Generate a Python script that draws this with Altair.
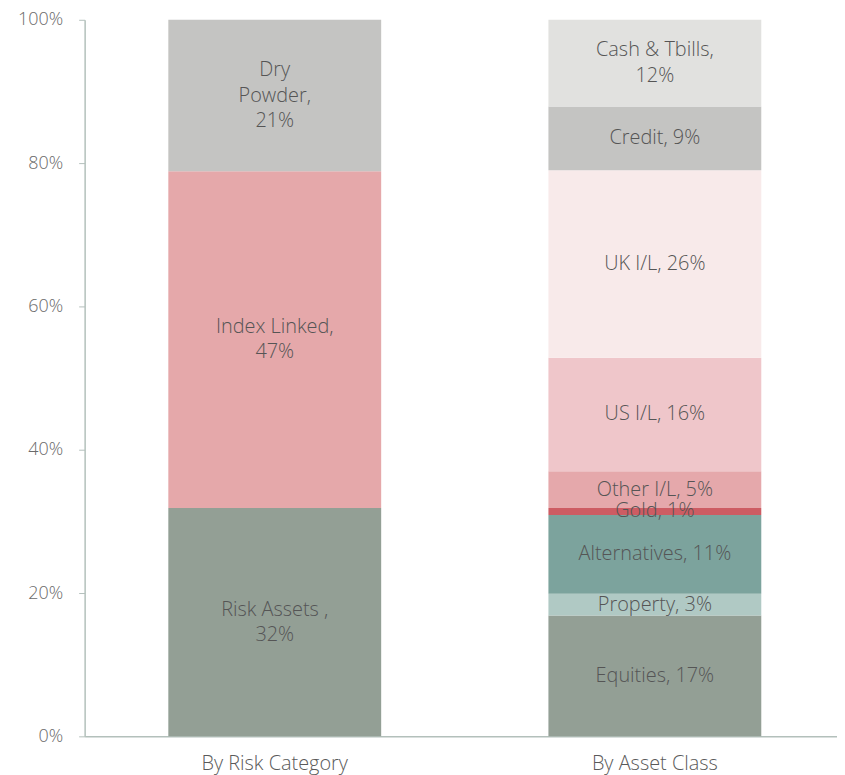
import altair as alt
import pandas as pd

categories = ["By Risk Category"] * 3 + ["By Asset Class"] * 9
segments = ["Risk Assets", "Index Linked", "Dry Powder",
            "Equities", "Property", "Alternatives", "Gold", "Other I/L",
            "US I/L", "UK I/L", "Credit", "Cash & Tbills"]
values = [31.85, 47.0, 21.15,
          16.85, 3.05, 11.0, 0.95, 5.15, 15.85, 26.15, 8.9, 12.1]
labels = [["Risk Assets ,", "32%"], ["Index Linked,", "47%"], ["Dry", "Powder,", "21%"],
          ["Equities, 17%"], ["Property, 3%"], ["Alternatives, 11%"], ["Gold, 1%"],
          ["Other I/L, 5%"], ["US I/L, 16%"], ["UK I/L, 26%"], ["Credit, 9%"],
          ["Cash & Tbills,", "12%"]]
colors = ["#939f95", "#e5a8aa", "#c4c4c2",
          "#939f95", "#b0c9c4", "#7ca39d", "#cd5c63", "#e5a8ab",
          "#efc6ca", "#f8eaea", "#c4c4c2", "#e1e1df"]

keys = [f"{c}|{s}" for c, s in zip(categories, segments)]
df = pd.DataFrame({
    "category": categories,
    "segment": segments,
    "key": keys,
    "value": values,
    "label": labels,
    "order": list(range(len(values))),
})

FONT = "Open Sans"
LINE_H = 25.5
PX_PER_UNIT = 7.2
xsort = ["By Risk Category", "By Asset Class"]
xscale = alt.Scale(paddingInner=0.44, paddingOuter=0.2097, align=0.525)
xenc = alt.X("category:N", sort=xsort, title=None, scale=xscale,
             axis=alt.Axis(labelAngle=0, tickSize=0, labelPadding=17, labelFontSize=20,
                           labelColor="#5a5a5a", labelFont=FONT, labelFontWeight=300,
                           domainColor="#b3c0bb", domainWidth=1.5))

base = alt.Chart(df).transform_stack(
    stack="value", groupby=["category"], as_=["y0", "y1"], sort=[alt.SortField("order")]
).transform_calculate(
    mid=f"(datum.y0 + datum.y1) / 2 + (length(datum.label) - 1) * {LINE_H / 2 / PX_PER_UNIT}"
)

bars = base.mark_bar().encode(
    x=xenc,
    y=alt.Y("y0:Q", scale=alt.Scale(domain=[0, 100], nice=False), title=None,
            axis=alt.Axis(values=[0, 20, 40, 60, 80, 100], labelExpr="datum.value + '%'",
                          grid=False, tickSize=6, tickColor="#b3c0bb", labelPadding=16,
                          labelFontSize=18, labelColor="#6a6a6a", labelFont=FONT,
                          labelFontWeight=300, domainColor="#b3c0bb", domainWidth=1.5)),
    y2="y1:Q",
    color=alt.Color("key:N", scale=alt.Scale(domain=keys, range=colors), legend=None),
)

text = base.mark_text(font=FONT, fontSize=20, fontWeight=300, color="#555555",
                      lineHeight=LINE_H, baseline="middle", align="center").encode(
    x=alt.X("category:N", sort=xsort),
    y=alt.Y("mid:Q"),
    text="label",
)

chart = alt.layer(bars, text).properties(
    width=756, height=720,
    autosize=alt.AutoSizeParams(type="none"),
    padding={"left": 77, "top": 10, "right": 0, "bottom": 37},
).configure_view(stroke=None)

chart.save("out.html", embed_options={"renderer": "svg", "actions": False})
